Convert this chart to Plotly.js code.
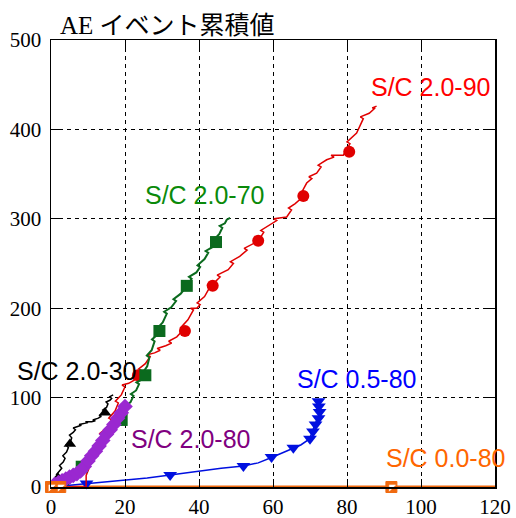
<!DOCTYPE html>
<html><head><meta charset="utf-8">
<script src="https://cdn.plot.ly/plotly-3.0.1.min.js"></script>
<style>html,body{margin:0;padding:0;background:#fff}#chart{width:516px;height:518px}</style>
</head><body><div id="chart"></div>
<script>
// S/C 2.0-30 (black)
const blackX = [0,0.8,1.3,0.8,1.6,2.0,1.5,2.4,2.9,2.3,3.3,3.8,3.2,4.2,4.7,4.1,5.2,5.6,5.0,6.0,6.6,6.0,7.2,8.2,7.6,9.0,10.0,9.3,11.0,12.0,11.3,12.8,13.6,13.0,14.2,14.6,14.0,15.0,15.4,14.9,15.9,16.4,15.9,16.8];
const blackY = [0,2,5,7,9,12,14,18,21,24,28,32,35,39,44,47,50,55,58,61,64,66,68,69,70,71,72,73,73,74,75,77,79,80,82,84,86,89,93,95,97,99,101,103];
const blackMX = [1.9,5.1,14.6];
const blackMY = [10,48,83];
// S/C 2.0-80 (purple)
const purpleX = [1,2,3,4,5,6,7,8,9,10,11,12,13,14,15,16,17,18,19,20];
const purpleY = [3,5,7,9,11,13,15,18,23,29,35,40,46,52,59,64,70,77,83,90];
// S/C 2.0-70 (green)
const greenX = [3,4.5,3.8,6,7,6.3,8.3,9.2,8.5,10.5,11.5,10.8,12.5,13.3,12.6,14.2,15,14.3,16,17,16.3,18,19.1,18.4,20,20.8,20.1,21.5,22.3,21.6,23,23.8,23.1,24.5,25.5,24.8,26,26.6,25.9,27.2,28,27.3,28.6,29.3,28.6,30.2,31.3,30.6,32.5,33.8,33.1,35,36,35.3,36.7,38,37.3,39.3,40.3,39.6,41.5,42.5,41.8,43.5,44.6,43.9,45.5,46.3,45.6,47,47.5,48.4];
const greenY = [0,3,5,8,13,15,22,25,27,29,35,37,41,46,48,51,55,57,60,65,67,70,75,77,82,88,90,95,102,104,108,115,117,120,125,128,135,145,147,153,163,165,170,175,177,184,194,196,201,208,210,216,221,223,225,233,235,240,246,248,255,262,264,268,274,276,283,290,292,295,299,301];
const greenMX = [8.3,19.1,25.5,29.3,36.7,44.6];
const greenMY = [22.7,75,125,174.5,225,274];
// S/C 2.0-90 (red)
const redX = [0,9.5,9.5,10.2,9.4,11,12,11.2,13.2,14,13.2,15,16.4,15.6,17.3,18.2,17.4,19,20,19.2,21,22.7,21.9,23.5,24.5,23.7,25.5,26.8,26.0,28,29.5,28.7,31,32.6,31.8,34,35.8,35.0,37,38.5,37.7,39.4,40.3,39.5,41.5,43,42.2,44.5,45.7,44.9,47.9,49.3,48.5,51,53,52.2,56,57.5,56.7,59.2,61,60.2,63.7,65,64.2,66,68.2,67.4,69.1,70.5,69.7,71.8,73,72.2,74.5,76.5,75.7,79,80.8,80.0,82.6,84.4,83.6,86,87.6,86.8,88];
const redY = [0,0,13,20,22,30,40,42,52,58,60,66,75,77,85,94,96,103,112,114,116,120,122,125,130,132,138,146,148,150,153,155,158,161,163,168,176,178,187,198,200,200,204,206,213,224,226,230,235,237,243,250,252,258,265,267,275,285,287,293,298,300,302,310,312,317,325,327,340,345,347,351,358,360,366,369,371,371,384,386,396,412,414,418,424,424,426];
const redMX = [23.5,36.2,43.7,56,68.2,80.6];
const redMY = [125,174.5,225,275.5,325.5,375];
// S/C 0.5-80 (blue)
const blueX = [0,5,9.6,15,20.5,26,32.2,36,40.3,46,52,56,59.6,62.5,65.5,67.5,69.5,70.3,70.8,71.3,71.8,73.5,72.7,72.6,72.4,72.3];
const blueY = [0,2,4,6,8,10,13.4,15.5,18,21,23.5,27,33,38,43,47,52.6,58,64,70,75,78,80,86,92,96];
const blueMX = [9.6,32.2,52,59.6,65.5,70,70.8,71.5,72.3,72.6,72.4,72.3];
const blueMY = [4,13.4,23.5,33.5,44,54,62,70,77,84,90,96];
// S/C 0.0-80 (orange)
const orangeX = [0,120];
const orangeY = [0,0];
const orangeMX = [0,2.5,92];
const orangeMY = [0,0,0];

const xTicks = [0,20,40,60,80,100,120];
const yTicks = [0,100,200,300,400,500];
const labels = ['S/C 2.0-90','S/C 2.0-70','S/C 2.0-30','S/C 2.0-80','S/C 0.5-80','S/C 0.0-80'];
const labelX = [102.7,41.6,7.0,37.9,82.6,106.8];
const labelY = [447,326.6,130,53.7,120.5,32];
const labelColors = ['#ff0000','#0a8a0a','#000000','#800080','#0000ff','#ff6600'];

const lineTrace = (x,y,color,w) => ({x:x,y:y,type:'scatter',mode:'lines',line:{color:color,width:w},hoverinfo:'skip'});
const markTrace = (x,y,color,sym,size) => ({x:x,y:y,type:'scatter',mode:'markers',marker:{color:color,symbol:sym,size:size,line:{width:0}},cliponaxis:false,hoverinfo:'skip'});

const data = [
  lineTrace(orangeX,orangeY,'#f06a10',3),
  lineTrace(blueX,blueY,'#0010e0',1.5),
  markTrace(blueMX,blueMY,'#0010e0','triangle-down',12),
  lineTrace(redX,redY,'#e00000',1.5),
  markTrace(redMX,redMY,'#e00000','circle',12),
  lineTrace(greenX,greenY,'#0b6a1e',2),
  markTrace(greenMX,greenMY,'#0b6a1e','square',12),
  lineTrace(blackX,blackY,'#000000',1.5),
  markTrace(blackMX,blackMY,'#000000','triangle-up',11),
  {x:purpleX,y:purpleY,type:'scatter',mode:'lines+markers',line:{color:'#9a28d0',width:4},marker:{color:'#9a28d0',symbol:'diamond',size:12},hoverinfo:'skip'},
  {x:orangeMX,y:orangeMY,type:'scatter',mode:'markers',marker:{color:'#f06a10',symbol:'square',size:11,line:{color:'#f06a10',width:1}},cliponaxis:false,hoverinfo:'skip'},
  {x:orangeMX,y:orangeMY,type:'scatter',mode:'markers',marker:{color:'#ffffff',symbol:'triangle-nw',size:7,line:{color:'#ffffff',width:0.5}},cliponaxis:false,hoverinfo:'skip'}
];

const annotations = labels.map((t,i)=>({x:labelX[i],y:labelY[i],xref:'x',yref:'y',text:t,showarrow:false,xanchor:'center',yanchor:'middle',font:{family:'Liberation Sans, Arial, sans-serif',size:25,color:labelColors[i]}}));

const axisCommon = {showline:true,mirror:'ticks',linecolor:'#000',linewidth:1.5,ticks:'inside',ticklen:8,tickwidth:1,tickcolor:'#000',showgrid:true,gridcolor:'#000',gridwidth:1,griddash:'4px,4px',zeroline:false,tickfont:{family:'Liberation Serif, Times New Roman, serif',size:21,color:'#000'}};

const layout = {
  width:516,height:518,
  margin:{l:51,r:21,t:40,b:31},
  paper_bgcolor:'#fff',plot_bgcolor:'#fff',
  showlegend:false,
  title:{text:'AE イベント累積値',xref:'container',yref:'container',x:60/516,xanchor:'left',y:1-25/518,yanchor:'middle',font:{family:'Liberation Serif, Noto Sans CJK JP, serif',size:25,color:'#000'}},
  xaxis:Object.assign({},axisCommon,{range:[0,120],tickvals:xTicks,ticktext:xTicks.map(String)}),
  yaxis:Object.assign({},axisCommon,{range:[0,500],tickvals:yTicks,ticktext:yTicks.map(String),ticklabelstandoff:4}),
  annotations:annotations
};
Plotly.newPlot('chart',data,layout,{staticPlot:true,displayModeBar:false});
</script></body></html>
